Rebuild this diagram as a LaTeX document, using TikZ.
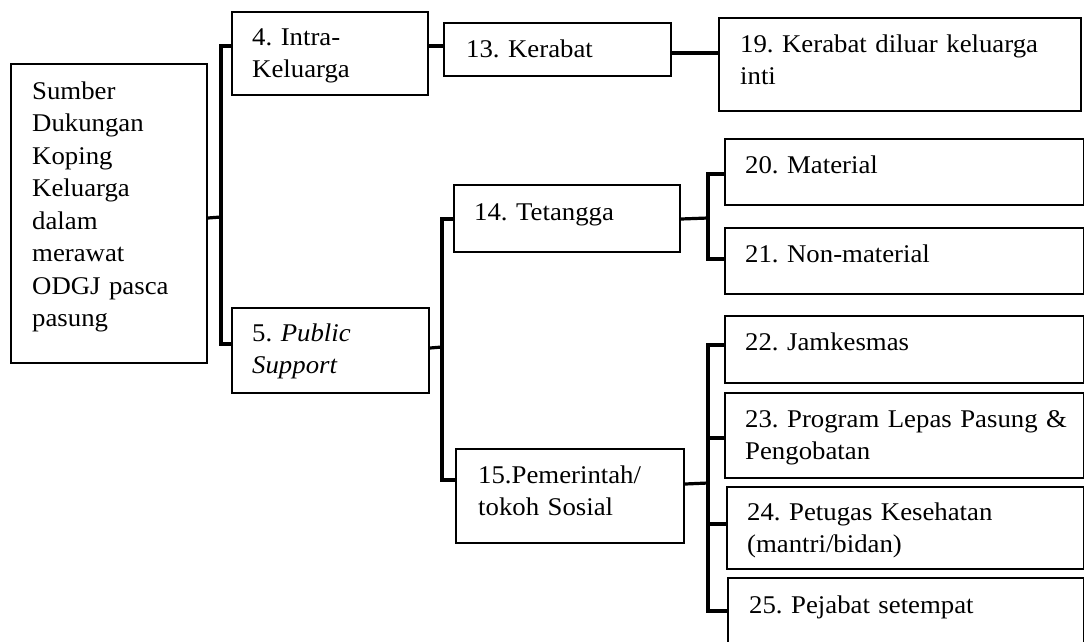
\documentclass[tikz,border=0pt]{standalone}
\usepackage{fontspec}
\setmainfont{Liberation Serif}[FakeStretch=1.05]
\frenchspacing
\begin{document}
\begin{tikzpicture}[x=1pt,y=-1pt,
  box/.style={draw=black, line width=2pt, rectangle, inner sep=0pt, anchor=north west},
  txt/.style={anchor=base west, inner sep=0pt, text width=400pt, align=left,
    font=\fontsize{25.5pt}{32.5pt}\selectfont\frenchspacing},
  conn/.style={draw=black, line width=3.2pt, line join=miter, line cap=rect}]
\useasboundingbox (0,0) rectangle (1084,641);
\clip (0,0) rectangle (1084,641);

% boxes: top-left corner, then size
\node[box, minimum width=196pt, minimum height=299pt] (root) at (10,63) {};
\node[box, minimum width=196pt, minimum height=83pt] (b4) at (231,11) {};
\node[box, minimum width=197pt, minimum height=85pt] (b5) at (231,307) {};
\node[box, minimum width=227pt, minimum height=53pt] (b13) at (443,22) {};
\node[box, minimum width=226pt, minimum height=67pt] (b14) at (453,184) {};
\node[box, minimum width=228pt, minimum height=94pt] (b15) at (455,448) {};
\node[box, minimum width=362pt, minimum height=93pt] (b19) at (718,17) {};
\node[box, minimum width=359pt, minimum height=66pt] (b20) at (724,138) {};
\node[box, minimum width=359pt, minimum height=66pt] (b21) at (724,227) {};
\node[box, minimum width=359pt, minimum height=67pt] (b22) at (724,315) {};
\node[box, minimum width=359pt, minimum height=85pt] (b23) at (724,392) {};
\node[box, minimum width=357pt, minimum height=82pt] (b24) at (726,486) {};
\node[box, minimum width=356pt, minimum height=83pt] (b25) at (727,577) {};

% labels, placed by the baseline of their first line
\node[txt] (troot) at (32,99) {Sumber\\Dukungan\\Koping\\Keluarga\\dalam\\merawat\\ODGJ pasca\\pasung};
\node[txt] (t4) at (252,45) {4. Intra-\\Keluarga};
\node[txt] (t5) at (252,341) {5. \textit{Public}\\\textit{Support}};
\node[txt] (t13) at (466,57) {13. Kerabat};
\node[txt] (t14) at (474,220) {14. Tetangga};
\node[txt] (t15) at (478,483) {15.Pemerintah/\\tokoh Sosial};
\node[txt] (t19) at (740,52) {19. Kerabat diluar keluarga\\inti};
\node[txt] (t20) at (745,173) {20. Material};
\node[txt] (t21) at (745,262) {21. Non-material};
\node[txt] (t22) at (745,350) {22. Jamkesmas};
\node[txt] (t23) at (745,427) {23. Program Lepas Pasung \&\\Pengobatan};
\node[txt] (t24) at (747,520) {24. Petugas Kesehatan\\(mantri/bidan)};
\node[txt] (t25) at (749,613) {25. Pejabat setempat};

% junction points of the brackets
\coordinate (j1) at (221,217);
\coordinate (j2) at (442,347);
\coordinate (j3) at (708,218);
\coordinate (j4) at (708,483);

% root to level one
\draw[conn] ([yshift=-4.5pt]root.east) -- (j1);
\draw[conn] ([yshift=7.5pt]b4.west) -| (j1) |- ([yshift=6.5pt]b5.west);

% Intra-Keluarga branch
\draw[conn] ([yshift=7.5pt]b4.east) -- ([yshift=3.5pt]b13.west);
\draw[conn] ([yshift=-3.5pt]b13.east) -- ([yshift=11.5pt]b19.west);

% Public Support branch
\draw[conn] ([yshift=2.5pt]b5.east) -- (j2);
\draw[conn] ([yshift=-0.5pt]b14.west) -| (j2) |- ([yshift=16pt]b15.west);

% Tetangga branch
\draw[conn] ([yshift=-0.5pt]b14.east) -- (j3);
\draw[conn] ([yshift=-2pt]b20.west) -| (j3) |- ([yshift=2pt]b21.west);

% Pemerintah branch
\draw[conn] ([yshift=12pt]b15.east) -- (j4);
\draw[conn] ([yshift=4.5pt]b22.west) -| (j4) |- ([yshift=8.5pt]b25.west);
\coordinate (p23) at ([yshift=-2.5pt]b23.west);
\coordinate (p24) at ([yshift=4pt]b24.west);
\draw[conn] (j4 |- p23) -- (p23);
\draw[conn] (j4 |- p24) -- (p24);
\end{tikzpicture}
\end{document}
